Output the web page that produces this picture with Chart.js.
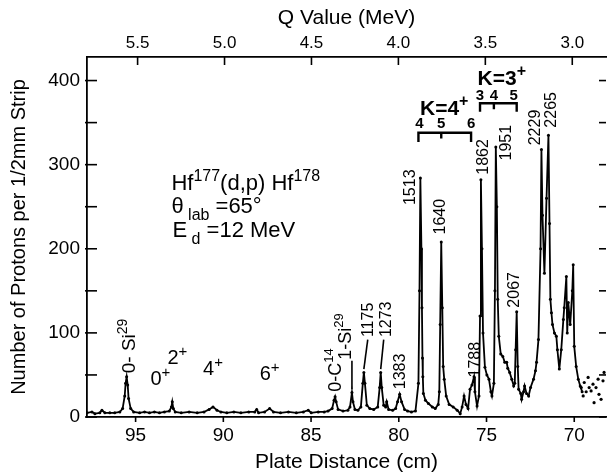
<!DOCTYPE html>
<html>
<head>
<meta charset="utf-8">
<script src="https://cdn.jsdelivr.net/npm/chart.js@4.4.1/dist/chart.umd.min.js"></script>
<style>
  html, body { margin: 0; padding: 0; background: #fff; }
  #wrap { width: 610px; height: 476px; }
</style>
</head>
<body>
<div id="wrap"><canvas id="grafico"></canvas></div>
<script>
// DATA

const plateCm = [97.77, 97.49, 97.32, 97.04, 96.92, 96.75, 96.47, 96.19, 95.90, 95.74,
  95.62, 95.57, 95.51, 95.45, 95.40, 95.28, 95.11, 94.77, 94.49, 94.21,
  93.93, 93.64, 93.36, 93.08, 92.96, 92.91, 92.85, 92.74, 92.40, 91.95,
  91.49, 91.10, 90.81, 90.59, 90.36, 90.14, 89.80, 89.40, 89.00, 88.55,
  88.21, 88.10, 87.99, 87.65, 87.36, 87.14, 86.74, 86.29, 85.84, 85.44,
  85.16, 84.99, 84.59, 84.25, 84.03, 83.80, 83.69, 83.63, 83.57, 83.46,
  83.18, 82.90, 82.78, 82.67, 82.61, 82.50, 82.33, 82.16, 82.05, 81.99,
  81.93, 81.82, 81.65, 81.43, 81.20, 81.09, 81.03, 80.97, 80.86, 80.75,
  80.69, 80.58, 80.35, 80.18, 80.07, 79.95, 79.84, 79.67, 79.50, 79.28,
  79.05, 78.88, 78.82, 78.77, 78.71, 78.68, 78.65, 78.63, 78.60, 78.48,
  78.31, 78.09, 77.92, 77.75, 77.69, 77.64, 77.58, 77.52, 77.47, 77.41,
  77.30, 77.13, 76.90, 76.67, 76.50, 76.39, 76.28, 76.17, 76.05, 75.94,
  75.83, 75.71, 75.66, 75.54, 75.43, 75.37, 75.32, 75.26, 75.20, 75.09,
  74.98, 74.86, 74.75, 74.69, 74.58, 74.52, 74.47, 74.41, 74.36, 74.30,
  74.19, 74.07, 73.96, 73.85, 73.79, 73.68, 73.56, 73.45, 73.39, 73.34,
  73.28, 73.22, 73.17, 73.05, 73.00, 72.89, 72.83, 72.72, 72.60, 72.49,
  72.32, 72.21, 72.15, 72.04, 71.92, 71.87, 71.81, 71.70, 71.58, 71.47,
  71.41, 71.36, 71.30, 71.24, 71.13, 71.02, 70.96, 70.85, 70.74, 70.62,
  70.57, 70.45, 70.40, 70.34, 70.23, 70.11, 70.06, 70.00, 69.89, 69.77,
  69.66, 69.55]

const protonCounts = [5, 6, 4, 5, 8, 5, 5, 5, 6, 10,
  25, 40, 48, 38, 22, 10, 6, 5, 6, 5,
  6, 5, 6, 7, 12, 18, 10, 6, 5, 6,
  5, 6, 9, 12, 8, 6, 5, 6, 5, 6,
  6, 9, 5, 6, 10, 6, 5, 6, 5, 6,
  8, 5, 6, 6, 7, 10, 20, 24, 18, 9,
  7, 8, 12, 29, 18, 9, 8, 12, 40, 53,
  40, 14, 10, 9, 12, 35, 53, 35, 14, 12,
  18, 9, 8, 10, 18, 27, 18, 9, 7, 6,
  7, 40, 150, 284, 200, 130, 70, 48, 28, 20,
  16, 12, 10, 15, 30, 110, 208, 130, 60, 45,
  25, 15, 12, 8, 4, 12, 25, 15, 10, 33,
  38, 48, 30, 13, 25, 120, 282, 200, 100, 59,
  50, 45, 30, 25, 40, 150, 321, 250, 140, 96,
  75, 72, 65, 65, 58, 53, 45, 37, 40, 80,
  125, 60, 33, 28, 21, 30, 37, 28, 25, 35,
  45, 55, 65, 92, 200, 318, 240, 171, 260, 335,
  230, 140, 124, 110, 100, 96, 80, 57, 80, 116,
  130, 167, 100, 136, 110, 150, 181, 84, 60, 45,
  37, 30]

// loose points past the last line segment
const dotCm = [69.60, 69.49, 69.43, 69.32, 69.21, 69.15, 69.04, 68.93, 68.87, 68.76, 68.64, 68.59, 68.47, 68.36, 68.30]
const dotCounts = [35, 25, 41, 30, 47, 35, 31, 39, 17, 35, 45, 27, 21, 43, 53]

const plateTicks = [95, 90, 85, 80, 75, 70]
const qTicks = [5.5, 5.0, 4.5, 4.0, 3.5, 3.0]
const countTicks = [0, 100, 200, 300, 400]
const countMinorTicks = [50, 150, 250, 350]

// FIM DOS DADOS

const FONT = '"Liberation Sans", Arial, Helvetica, sans-serif'

// labels: [text, kind] runs, anchored at bottom centre (rotated) in data units
const peakLabels = [
  { runs: [['0- Si', 'n'], ['29', 'sup']], cm: 95.45, count: 52, size: 19 },
  { runs: [['0-C', 'n'], ['14', 'sup']], cm: 83.69, count: 30, size: 18 },
  { runs: [['1-Si', 'n'], ['29', 'sup']], cm: 83.12, count: 68, size: 18 },
  { runs: [['1175', 'n']], cm: 81.77, count: 95, size: 16 },
  { runs: [['1273', 'n']], cm: 80.75, count: 95, size: 16 },
  { runs: [['1383', 'n']], cm: 79.95, count: 33, size: 16 },
  { runs: [['1513', 'n']], cm: 79.39, count: 252, size: 16 },
  { runs: [['1640', 'n']], cm: 77.69, count: 217, size: 16 },
  { runs: [['1788', 'n']], cm: 75.71, count: 47, size: 16 },
  { runs: [['1862', 'n']], cm: 75.26, count: 288, size: 16 },
  { runs: [['1951', 'n']], cm: 73.96, count: 305, size: 16 },
  { runs: [['2067', 'n']], cm: 73.45, count: 130, size: 16 },
  { runs: [['2229', 'n']], cm: 72.26, count: 323, size: 16 },
  { runs: [['2265', 'n']], cm: 71.36, count: 344, size: 16 }
]

const stateLabels = [
  { runs: [['0', 'n'], ['+', 'sup']], cm: 93.59, count: 38 },
  { runs: [['2', 'n'], ['+', 'sup']], cm: 92.62, count: 63 },
  { runs: [['4', 'n'], ['+', 'sup']], cm: 90.59, count: 50 },
  { runs: [['6', 'n'], ['+', 'sup']], cm: 87.36, count: 44 }
]

const leaders = [
  [81.77, 92, 81.99, 57],
  [80.86, 92, 81.03, 57],
  [82.67, 67, 82.67, 33]
]

function drawRuns(ctx, runs, x, y, size, weight, align) {
  const fontOf = k => weight + ' ' + (k === 'n' ? size : Math.round(size * 0.74)) + 'px ' + FONT
  let total = 0
  runs.forEach(r => { ctx.font = fontOf(r[1]); total += ctx.measureText(r[0]).width })
  let cx = align === 'center' ? x - total / 2 : x
  runs.forEach(r => {
    ctx.font = fontOf(r[1])
    const dy = r[1] === 'sup' ? -size * 0.42 : (r[1] === 'sub' ? size * 0.3 : 0)
    ctx.fillText(r[0], cx, y + dy)
    cx += ctx.measureText(r[0]).width
  })
}

const anotacoes = {
  id: 'anotacoes',
  afterDatasetsDraw(chart) {
    const ctx = chart.ctx
    const sx = chart.scales.x, sy = chart.scales.y
    const px = v => sx.getPixelForValue(v)
    const py = v => sy.getPixelForValue(v)
    ctx.save()
    ctx.fillStyle = '#000'
    ctx.strokeStyle = '#000'
    ctx.textBaseline = 'alphabetic'

    peakLabels.forEach(l => {
      ctx.save()
      ctx.translate(px(l.cm), py(l.count))
      ctx.rotate(-Math.PI / 2)
      drawRuns(ctx, l.runs, 0, l.size * 0.36, l.size, 'normal', 'left')
      ctx.restore()
    })

    stateLabels.forEach(l => {
      drawRuns(ctx, l.runs, px(l.cm), py(l.count), 20, 'normal', 'center')
    })

    ctx.lineWidth = 1.6
    leaders.forEach(s => {
      ctx.beginPath()
      ctx.moveTo(px(s[0]), py(s[1]))
      ctx.lineTo(px(s[2]), py(s[3]))
      ctx.stroke()
    })

    // reaction text
    drawRuns(ctx, [['Hf', 'n'], ['177', 'sup'], ['(d,p) Hf', 'n'], ['178', 'sup']], px(92.96), py(270), 22, 'normal', 'left')
    drawRuns(ctx, [['\u03b8', 'n'], [' lab', 'sub'], [' =65\u00b0', 'n']], px(92.96), py(242), 22, 'normal', 'left')
    drawRuns(ctx, [['E', 'n'], [' d', 'sub'], [' =12 MeV', 'n']], px(92.90), py(214), 22, 'normal', 'left')

    // K bands
    drawRuns(ctx, [['K=4', 'n'], ['+', 'sup']], px(77.41), py(359), 21, 'bold', 'center')
    drawRuns(ctx, [['K=3', 'n'], ['+', 'sup']], px(74.13), py(395), 21, 'bold', 'center')
    ctx.textAlign = 'center'
    ctx.font = 'bold 15px ' + FONT
    ;[['4', 78.82], ['5', 77.58], ['6', 75.88]].forEach(t => ctx.fillText(t[0], px(t[1]), py(344)))
    ;[['3', 75.37], ['4', 74.58], ['5', 73.45]].forEach(t => ctx.fillText(t[0], px(t[1]), py(377)))
    ctx.lineWidth = 2.4
    const bracket = (a, m, b, yTop, yEnd, yMid) => {
      ctx.beginPath()
      ctx.moveTo(px(a), py(yEnd)); ctx.lineTo(px(a), py(yTop))
      ctx.lineTo(px(b), py(yTop)); ctx.lineTo(px(b), py(yEnd))
      ctx.moveTo(px(m), py(yTop)); ctx.lineTo(px(m), py(yMid))
      ctx.stroke()
    }
    bracket(78.88, 77.58, 75.88, 338, 327, 331)
    bracket(75.37, 74.58, 73.28, 373, 363, 366)
    ctx.restore()
  },
  afterDraw(chart) {
    const ctx = chart.ctx
    const a = chart.chartArea
    const sx = chart.scales.x, sy = chart.scales.y, sq = chart.scales.x2
    ctx.save()
    ctx.strokeStyle = '#000'
    ctx.lineWidth = 1.6
    const seg = (x1, y1, x2, y2) => { ctx.beginPath(); ctx.moveTo(x1, y1); ctx.lineTo(x2, y2); ctx.stroke() }
    countTicks.concat(countMinorTicks).forEach(v => {
      const p = sy.getPixelForValue(v)
      seg(a.left - 2, p, a.left + 10, p)
      seg(a.right - 7, p, a.right, p)
    })
    plateTicks.forEach(v => {
      const p = sx.getPixelForValue(v)
      seg(p, a.bottom, p, a.bottom + 5)
    })
    qTicks.forEach(v => {
      const p = sq.getPixelForValue(v)
      seg(p, a.top, p, a.top + 8)
    })
    ctx.restore()
  }
}

const ctx = document.getElementById('grafico').getContext('2d')

const grafico = new Chart(ctx, {
  type: 'scatter',
  data: {
    datasets: [{
      data: plateCm.map((v, i) => ({ x: v, y: protonCounts[i] })),
      showLine: true,
      borderColor: '#000',
      borderWidth: 1.8,
      pointRadius: 1.5,
      pointBackgroundColor: '#000',
      pointBorderWidth: 0,
      tension: 0
    },
    {
      data: dotCm.map((v, i) => ({ x: v, y: dotCounts[i] })),
      showLine: false,
      pointRadius: 1.6,
      pointBackgroundColor: '#000',
      pointBorderWidth: 0
    }]
  },
  options: {
    responsive: true,
    maintainAspectRatio: false,
    animation: false,
    layout: { padding: 0 },
    plugins: {
      legend: { display: false },
      tooltip: { enabled: false }
    },
    scales: {
      x: {
        type: 'linear',
        position: 'bottom',
        reverse: true,
        min: 68.19,
        max: 97.77,
        afterBuildTicks: s => { s.ticks = plateTicks.map(v => ({ value: v })) },
        afterFit: s => { s.height = 59 },
        grid: { display: false, drawTicks: false },
        border: { display: true, color: '#000', width: 1.8 },
        ticks: { color: '#000', font: { family: FONT, size: 19 }, padding: 7, maxRotation: 0, autoSkip: false },
        title: { display: true, text: 'Plate Distance (cm)', color: '#000', font: { family: FONT, size: 21 }, padding: { top: 0, bottom: 1 } }
      },
      x2: {
        type: 'linear',
        position: 'top',
        reverse: true,
        min: 2.806,
        max: 5.791,
        afterBuildTicks: s => { s.ticks = qTicks.map(v => ({ value: v })) },
        afterFit: s => { s.height = 57 },
        grid: { display: false, drawTicks: false },
        border: { display: true, color: '#000', width: 1.8 },
        ticks: { color: '#000', font: { family: FONT, size: 17 }, padding: 3, maxRotation: 0, autoSkip: false, callback: v => v.toFixed(1) },
        title: { display: true, text: 'Q Value (MeV)', color: '#000', font: { family: FONT, size: 21 }, padding: { top: 6, bottom: 0 } }
      },
      y: {
        type: 'linear',
        position: 'left',
        min: 0,
        max: 428,
        afterBuildTicks: s => { s.ticks = countTicks.map(v => ({ value: v })) },
        afterFit: s => { s.width = 87 },
        grid: { display: false, drawTicks: false },
        border: { display: true, color: '#000', width: 1.8 },
        ticks: { color: '#000', font: { family: FONT, size: 19 }, padding: 7 },
        title: { display: true, text: 'Number of Protons per 1/2mm Strip', color: '#000', font: { family: FONT, size: 20 }, padding: { top: 7, bottom: 0 } }
      }
    }
  },
  plugins: [anotacoes]
})
</script>
</body>
</html>
